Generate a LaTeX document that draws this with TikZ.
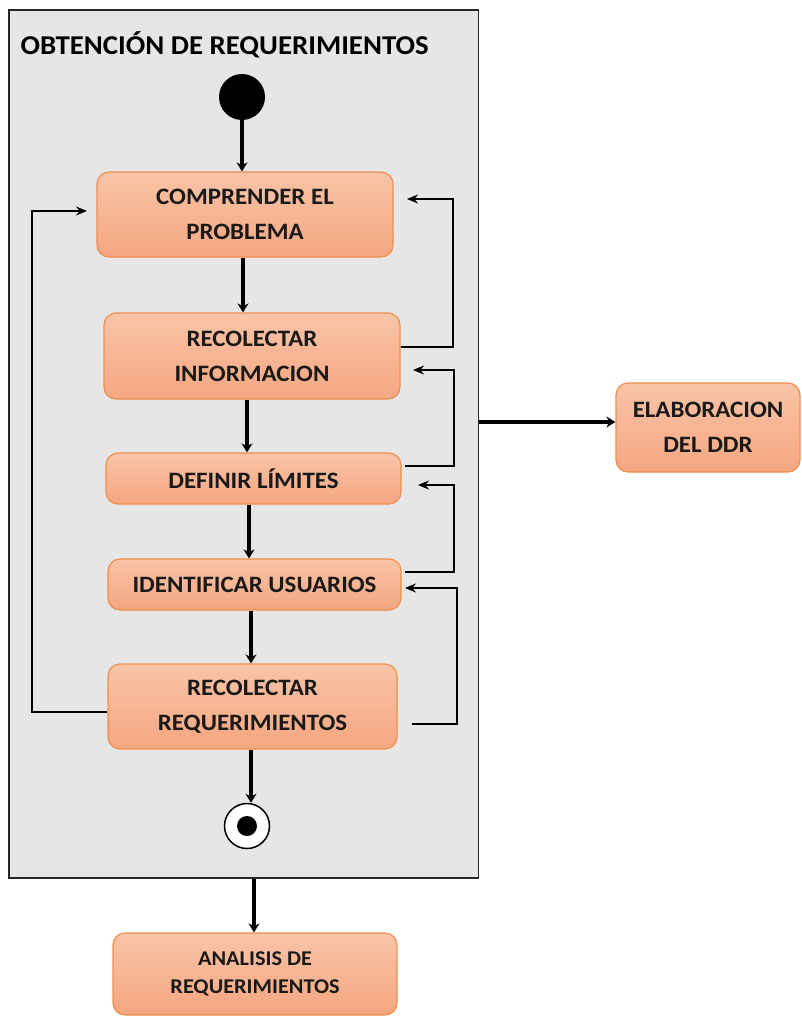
\documentclass[tikz,border=0pt]{standalone}
\usepackage{fontspec}
\setmainfont{Carlito}[FakeStretch=1.06]
\usetikzlibrary{arrows.meta}
\definecolor{boxtop}{HTML}{F9C4A7}
\definecolor{boxbot}{HTML}{F5A680}
\definecolor{boxline}{HTML}{EF8E4E}
\definecolor{panelgray}{HTML}{E6E6E6}
\tikzset{
  act/.style={draw=boxline, line width=1.2pt, rounded corners=12pt,
    top color=boxtop, bottom color=boxbot, align=center, inner sep=0pt,
    text=black!90, font=\bfseries\fontsize{23.5}{35}\selectfont},
  smallact/.style={act, font=\bfseries\fontsize{21}{28}\selectfont},
  flow/.style={line width=4pt, -{Stealth[length=9pt,width=11pt]}},
  back/.style={line width=1.5pt, -{Stealth[length=11pt,width=9pt]}},
}
\begin{document}
\begin{tikzpicture}[x=1pt,y=-1pt]
\useasboundingbox (0,0) rectangle (801,1017);

% swimlane panel
\node[draw=black!85, fill=panelgray, line width=1.5pt, inner sep=0pt,
      minimum width=469.5pt, minimum height=868pt] (pnl) at (243.5,444) {};
\node[anchor=west, font=\bfseries\fontsize{27.2}{27}\selectfont] (title)
      at (17,45) {OBTENCIÓN DE REQUERIMIENTOS};

% initial and final states
\node[circle, fill=black, minimum size=46pt, inner sep=0pt] (start) at (242,97) {};
\node[circle, draw=black, fill=white, line width=1.5pt, minimum size=45pt, inner sep=0pt] (stop) at (247,826) {};
\node[circle, fill=black, minimum size=20pt, inner sep=0pt] (stopdot) at (stop.center) {};

% activities
\node[act, minimum width=296pt, minimum height=85pt] (b1) at (245,214.5) {COMPRENDER EL\\PROBLEMA};
\node[act, minimum width=296pt, minimum height=86pt] (b2) at (252,356) {RECOLECTAR\\INFORMACION};
\node[act, minimum width=295pt, minimum height=51pt] (b3) at (253.5,478.5) {DEFINIR LÍMITES};
\node[act, minimum width=293pt, minimum height=51pt] (b4) at (254.5,584.5) {IDENTIFICAR USUARIOS};
\node[act, minimum width=289pt, minimum height=85pt] (b5) at (252.5,706.5) {RECOLECTAR\\REQUERIMIENTOS};
\node[act, minimum width=184pt, minimum height=89pt] (elab) at (708,427.5) {ELABORACION\\DEL DDR};
\node[smallact, minimum width=284pt, minimum height=82pt] (anal) at (255,974) {ANALISIS DE\\REQUERIMIENTOS};

% main flow
\draw[flow] (start.south) -- (start.south |- b1.north);
\draw[flow] ([xshift=-2pt]b1.south) -- ([xshift=-2pt]b1.south |- b2.north);
\draw[flow] ([xshift=-5pt]b2.south) -- ([xshift=-5pt]b2.south |- b3.north);
\draw[flow] ([xshift=-4.5pt]b3.south) -- ([xshift=-4.5pt]b3.south |- b4.north);
\draw[flow] ([xshift=-3.5pt]b4.south) -- ([xshift=-3.5pt]b4.south |- b5.north);
\draw[flow] ([xshift=-1.5pt]b5.south) -- ([xshift=-1.5pt]b5.south |- stop.north);
\draw[flow] (pnl.east |- 0,422) -- (elab.west |- 0,422);
\draw[flow] (pnl.south -| 254,0) -- (anal.north -| 254,0);

% feedback loops
\coordinate (t1) at (407,199);
\coordinate (t2) at (413,370);
\coordinate (t3) at (418,485);
\coordinate (t4) at (405,588);
\coordinate (s3) at (405,466);
\coordinate (s4) at (405,572);
\coordinate (s5) at (412,724);
\coordinate (t0) at (87,211);
\draw[back] (b2.east |- 0,347) -- (453,347) -- (453,199) -- (t1);
\draw[back] (s3) -- (454,466) -- (454,370) -- (t2);
\draw[back] (s4) -- (454,572) -- (454,485) -- (t3);
\draw[back] (s5) -- (457,724) -- (457,588) -- (t4);
\draw[back] (b5.west |- 0,712) -- (32,712) -- (32,211) -- (t0);
\end{tikzpicture}
\end{document}
